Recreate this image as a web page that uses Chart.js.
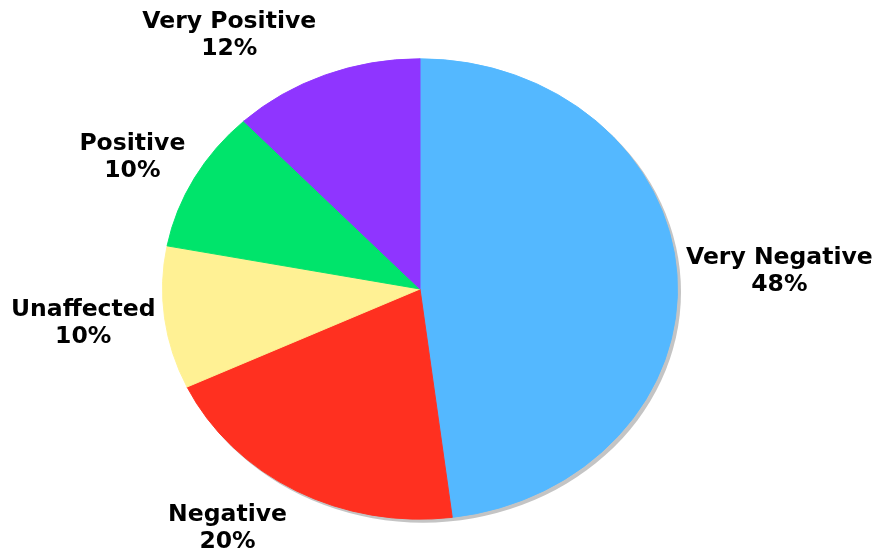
<!DOCTYPE html>
<html>
<head>
<meta charset="utf-8">
<script src="https://cdn.jsdelivr.net/npm/chart.js@4/dist/chart.umd.min.js"></script>
<style>
  html, body { margin: 0; padding: 0; background: #ffffff; }
  #wrap { width: 876px; height: 548px; }
</style>
</head>
<body>
<div id="wrap"><canvas id="c" width="876" height="548"></canvas></div>
<script>
// Survey response shares, clockwise from 12 o'clock
const categories = ['Very Negative', 'Negative', 'Unaffected', 'Positive', 'Very Positive'];
const shares = [48, 20, 10, 10, 12];
const percentLabels = ['48%', '20%', '10%', '10%', '12%'];
const sliceColors = ['#54b8ff', '#ff3020', '#fff194', '#00e46b', '#8f35ff'];

const FLATTEN = 0.894;          // vertical squash that turns the pie into an ellipse
const LABEL_FONT = 'bold 23.5px "DejaVu Sans", Verdana, sans-serif';
const LINE_H = 27;

function pieGeometry(chart) {
  const arc = chart.getDatasetMeta(0).data[0];
  return { cx: arc.x, cy: arc.y, r: arc.outerRadius };
}

// Squash the pie vertically and lay a grey drop shadow under it
const ellipsePlugin = {
  id: 'ellipse',
  beforeDatasetsDraw(chart) {
    const ctx = chart.ctx;
    const g = pieGeometry(chart);
    ctx.save();
    // shadow
    ctx.save();
    ctx.translate(g.cx + 3, g.cy + 3);
    ctx.scale(1, FLATTEN);
    ctx.beginPath();
    ctx.arc(0, 0, g.r + 0.5, 0, Math.PI * 2);
    ctx.fillStyle = '#c4c4c4';
    ctx.fill();
    ctx.restore();
    // flatten the slices
    ctx.translate(g.cx, g.cy);
    ctx.scale(1, FLATTEN);
    ctx.translate(-g.cx, -g.cy);
  },
  afterDatasetsDraw(chart) {
    chart.ctx.restore();
  }
};

// Two-line labels placed just outside each slice's mid-point
const labelPlugin = {
  id: 'outsideLabels',
  afterDraw(chart) {
    const ctx = chart.ctx;
    const meta = chart.getDatasetMeta(0);
    ctx.save();
    ctx.font = LABEL_FONT;
    ctx.fillStyle = '#000000';
    ctx.textAlign = 'center';
    ctx.textBaseline = 'middle';
    meta.data.forEach((arc, i) => {
      const mid = (arc.startAngle + arc.endAngle) / 2;
      const rx = arc.outerRadius;
      const ry = arc.outerRadius * FLATTEN;
      const cos = Math.cos(mid), sin = Math.sin(mid);
      const lines = [categories[i], percentLabels[i]];
      const w = Math.max(...lines.map(t => ctx.measureText(t).width));
      const edgeX = arc.x + cos * rx;
      const x = cos >= 0 ? edgeX + 9 + w / 2 : edgeX - 9 - w / 2;
      const y = arc.y + sin * (ry + 43);
      ctx.fillText(lines[0], x, y - LINE_H / 2);
      ctx.fillText(lines[1], x, y + LINE_H / 2);
    });
    ctx.restore();
  }
};

new Chart(document.getElementById('c'), {
  type: 'pie',
  data: {
    labels: categories,
    datasets: [{
      data: shares,
      backgroundColor: sliceColors,
      borderColor: sliceColors,
      borderWidth: 1
    }]
  },
  options: {
    responsive: false,
    animation: false,
    rotation: 0,
    layout: { padding: { left: 162, right: 198, top: 31, bottom: 1 } },
    plugins: {
      legend: { display: false },
      tooltip: { enabled: false }
    }
  },
  plugins: [ellipsePlugin, labelPlugin]
});
</script>
</body>
</html>
